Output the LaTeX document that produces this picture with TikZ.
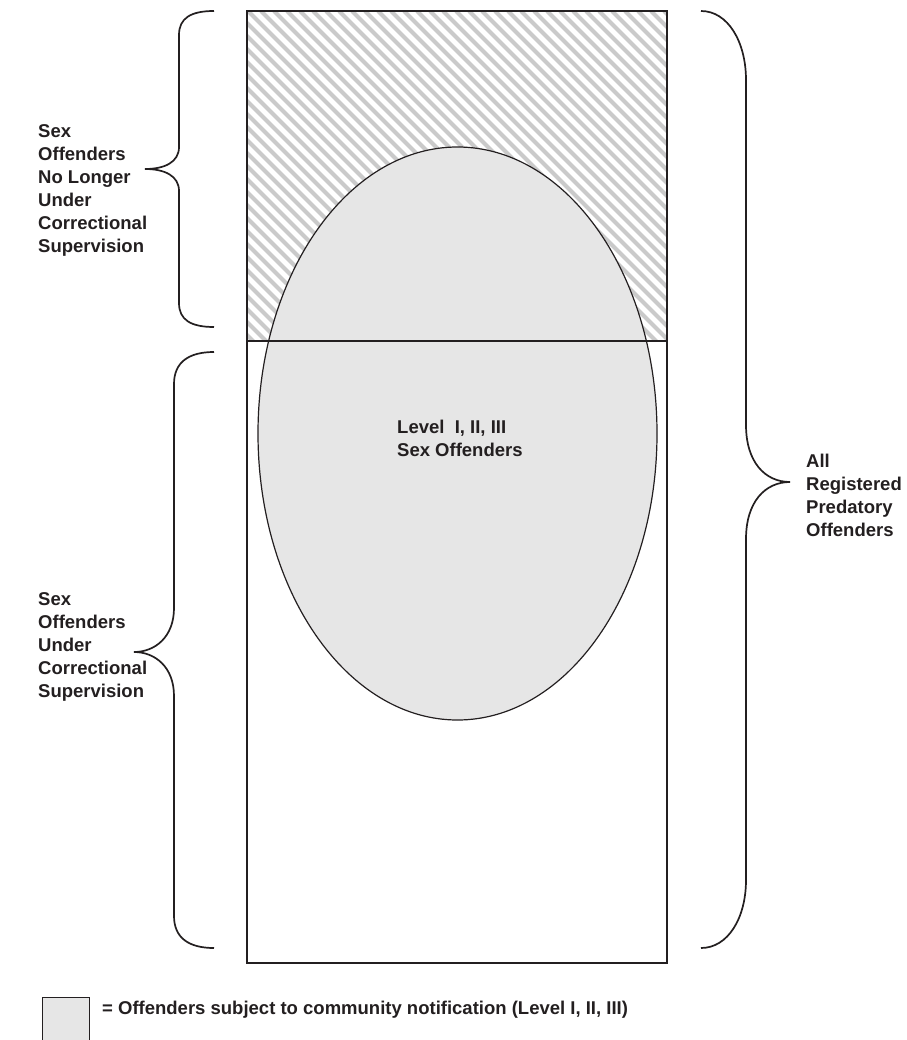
\documentclass[tikz,border=0pt]{standalone}
\usepackage{fontspec}
\setmainfont{Liberation Sans}
\usetikzlibrary{shapes.geometric, positioning}
\definecolor{inkdark}{RGB}{35,31,32}
\definecolor{notifygray}{RGB}{230,230,230}
\definecolor{hatchgray}{RGB}{202,202,202}

\begin{document}
\begin{tikzpicture}[x=1pt, y=-1pt,
    every node/.style={font=\bfseries\fontsize{18.5}{23}\selectfont, text=inkdark, inner sep=0pt},
    frame/.style={rectangle, draw=inkdark, line width=2.4pt, minimum width=420pt},
    region/.style={draw=inkdark, fill=notifygray, line width=1.2pt},
    hatch/.style={draw=hatchgray, line width=4.2pt},
    bracket/.style={draw=inkdark, line width=1.7pt},
    grouptext/.style={align=left, anchor=north west}
]
\useasboundingbox (0,0) rectangle (906,1040);

% Hatched part (offenders no longer supervised)
\begin{scope}
  \clip (247,11) rectangle (667,341);
  \foreach \x in {-350,-337,...,680}
    \draw[hatch] (\x,11) -- ++(340,340);
\end{scope}

% Notification group
\node[region, ellipse, minimum width=399pt, minimum height=573pt] (levels) at (457.5,433.5) {};
\node[grouptext] (levelstext) at (397,420) {Level\ \ I, II, III\\Sex Offenders};

% Frame (two parts)
\node[frame, minimum height=330pt] (released) at (457,176) {};
\node[frame, minimum height=622pt] (supervised) at (457,652) {};

% Braces
\draw[bracket] (214,11) .. controls (191,11) and (179,18) .. (179,35) -- (179,147)
  .. controls (179,162) and (165,169) .. (145,169)
  .. controls (165,169) and (179,176) .. (179,191) -- (179,303)
  .. controls (179,320) and (191,327) .. (214,327);
\draw[bracket] (214,352) .. controls (189,352) and (174,362) .. (174,384) -- (174,608)
  .. controls (174,637) and (155,652) .. (134,652)
  .. controls (155,652) and (174,667) .. (174,696) -- (174,916)
  .. controls (174,938) and (189,948) .. (214,948);
\draw[bracket] (701,11) .. controls (728,11) and (746,42) .. (746,80) -- (746,425)
  .. controls (746,462) and (765,482) .. (790,482)
  .. controls (765,482) and (746,502) .. (746,539) -- (746,880)
  .. controls (746,918) and (728,948) .. (701,948);

% Group labels
\node[grouptext] (releasedtext) at (38,124) {Sex\\Offenders\\No Longer\\Under\\Correctional\\Supervision};
\node[grouptext] (supervisedtext) at (38,592) {Sex\\Offenders\\Under\\Correctional\\Supervision};
\node[grouptext] (alltext) at (806,454) {All\\Registered\\Predatory\\Offenders};

% Legend
\node[region, line width=1pt, minimum width=47pt, minimum height=48pt, anchor=north west] (key) at (42,997) {};
\node[anchor=north west] (keytext) at (102,1001) {= Offenders subject to community notification (Level I, II, III)};

\end{tikzpicture}
\end{document}
